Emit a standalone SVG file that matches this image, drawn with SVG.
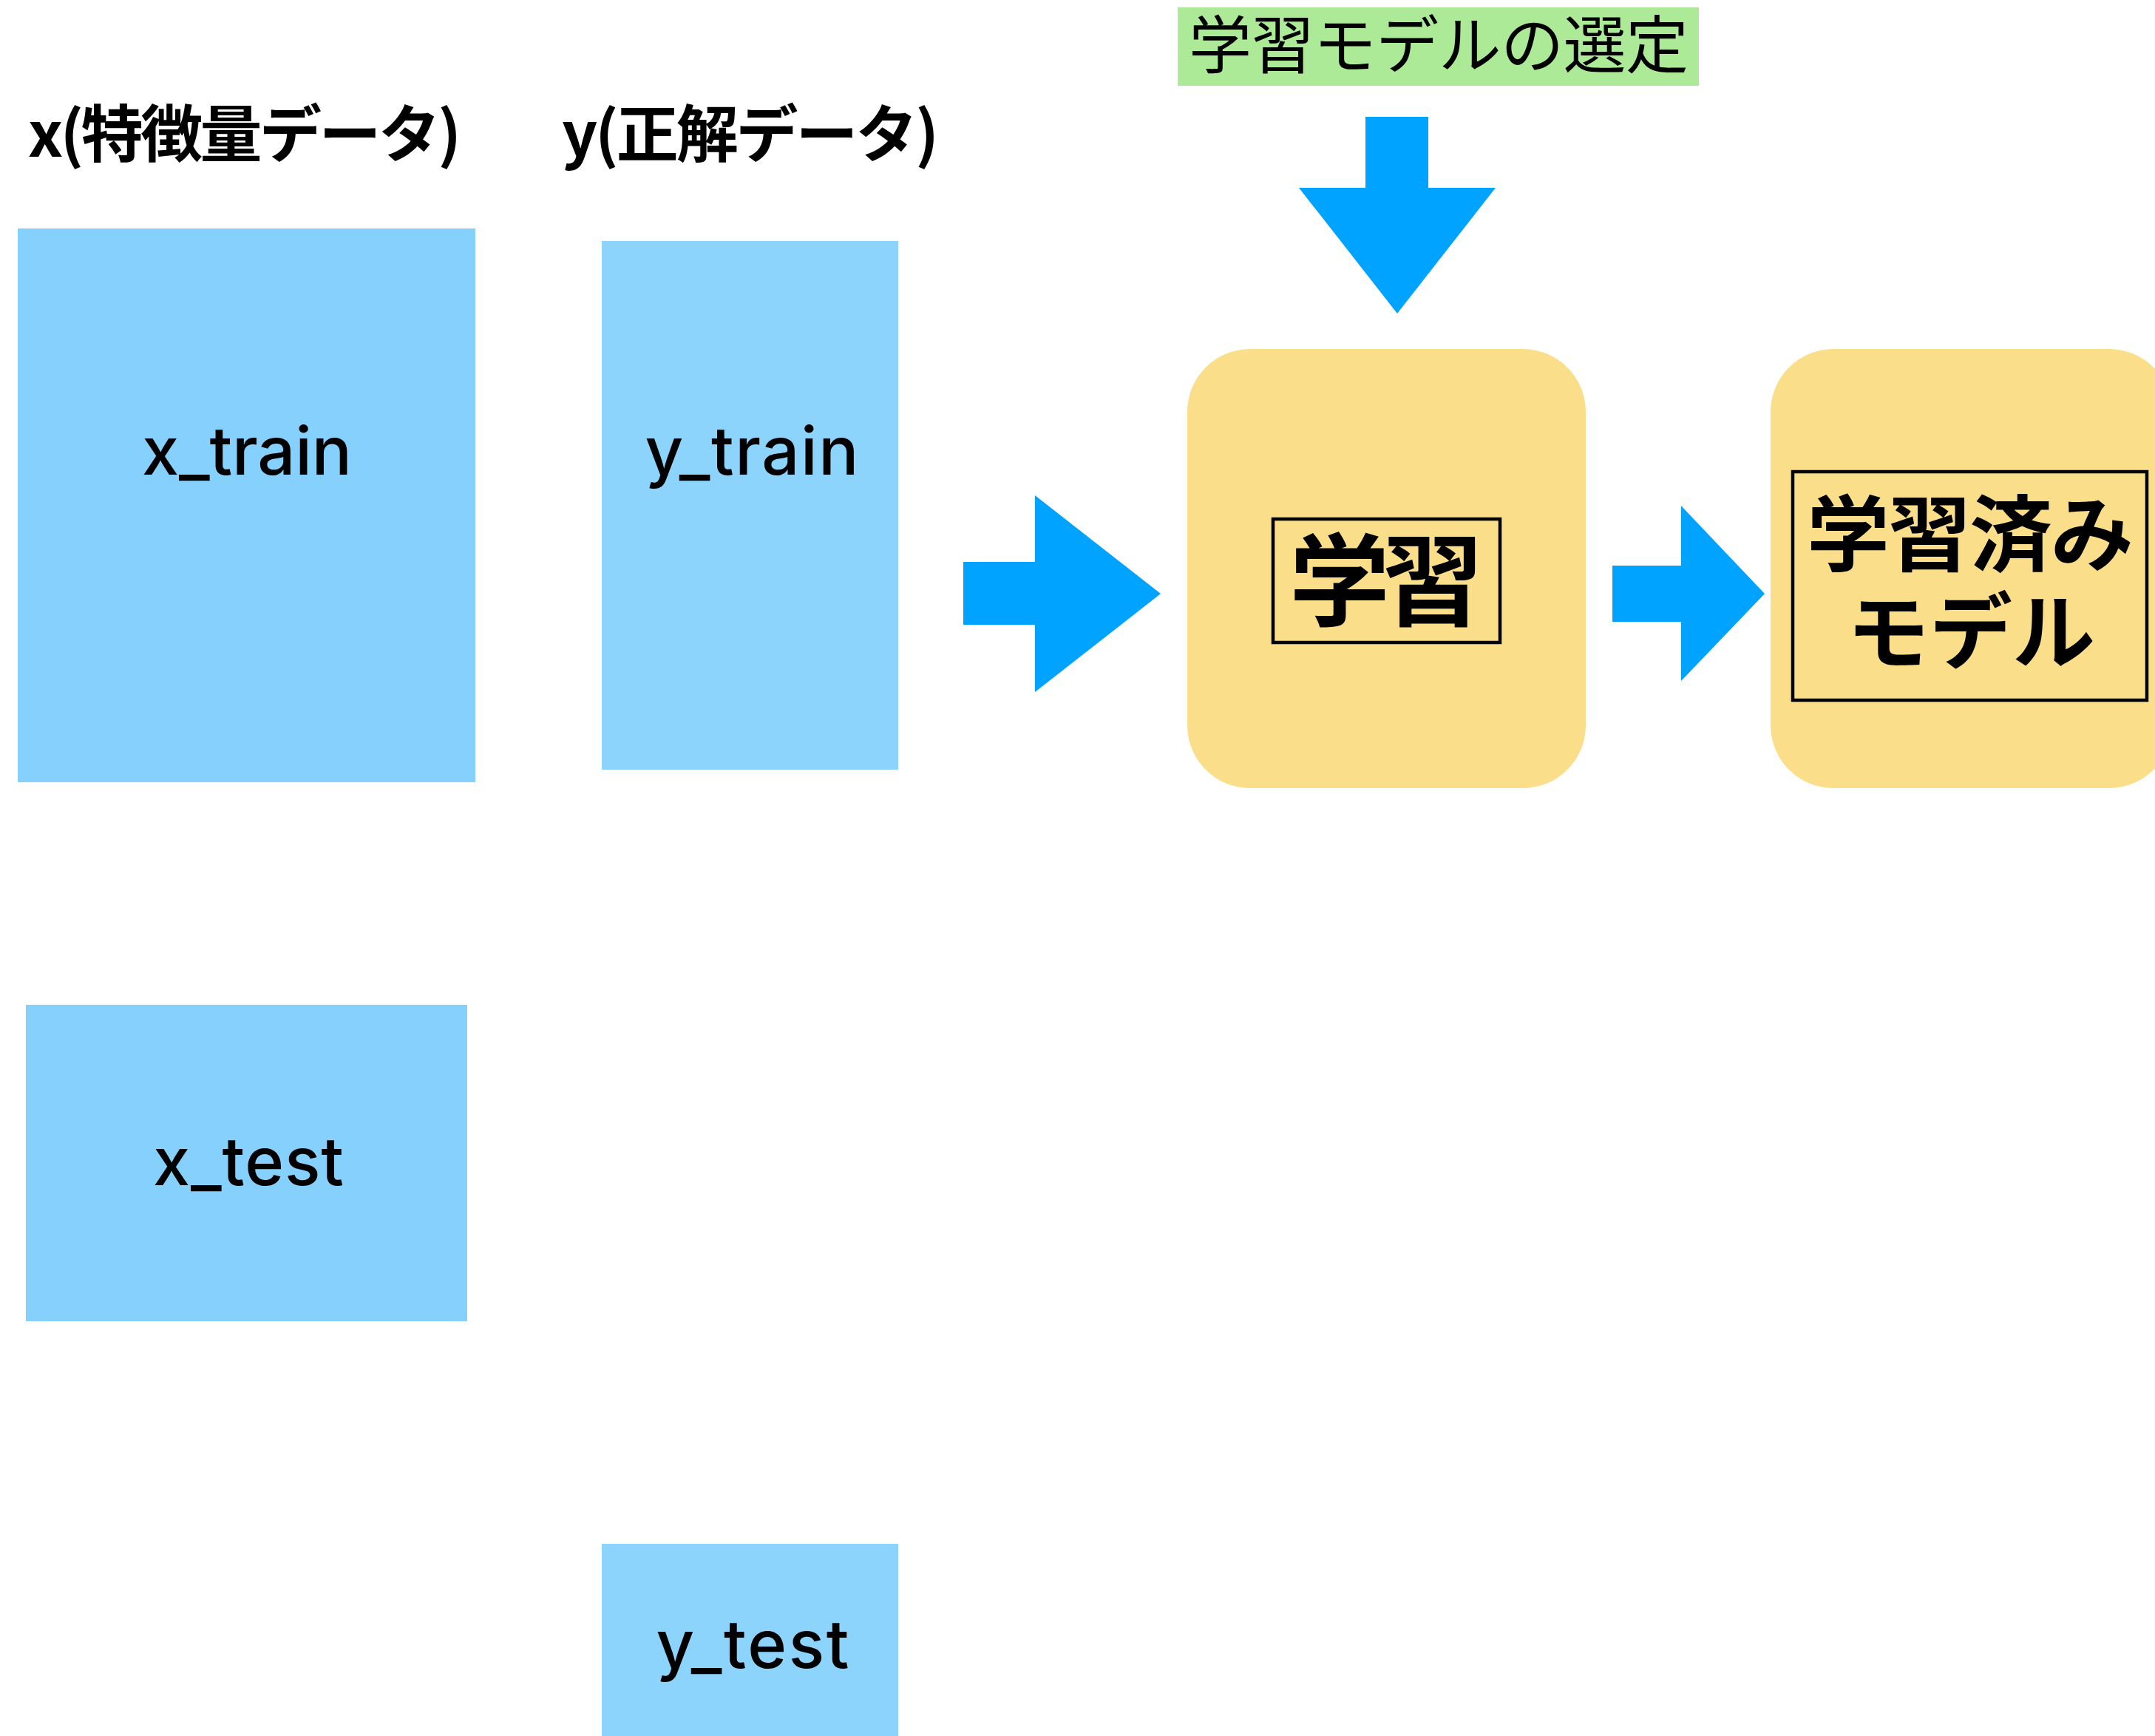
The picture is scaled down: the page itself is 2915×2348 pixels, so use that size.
<svg xmlns="http://www.w3.org/2000/svg" width="2915" height="2348" viewBox="0 0 2915 2348">
<style>
.bg{fill:#ffffff}
.xdata{fill:#86D0FE}
.ydata{fill:#8CD4FC}
.stage{fill:#FBDE8A}
.frame{fill:none;stroke:#000;stroke-width:4.5}
.arrow{fill:#00A3FF}
.lbl{font-family:Inter,"Liberation Sans",Arial,sans-serif;font-weight:500;font-size:90px;fill:#000;text-anchor:middle}
.hdr{font-family:"Noto Sans CJK JP","Noto Sans",sans-serif;font-weight:bold;font-size:84px;fill:#000}
.jp{font-family:"Noto Sans CJK JP",sans-serif;fill:#000;text-anchor:middle}
</style>
<rect class="bg" x="0" y="0" width="2915" height="2348"/>

<g id="header-x"><text class="hdr" x="38" y="212" textLength="586">x(特徴量データ)</text></g>
<g id="header-y"><text class="hdr" x="760" y="212" textLength="510">y(正解データ)</text></g>

<g id="x_train"><rect class="xdata" x="24" y="309" width="619" height="749"/><text class="lbl" x="334" y="642" textLength="284">x_train</text></g>
<g id="y_train"><rect class="ydata" x="814" y="326" width="401" height="715"/><text class="lbl" x="1017" y="642" textLength="289">y_train</text></g>
<g id="x_test"><rect class="xdata" x="35" y="1359" width="597" height="428"/><text class="lbl" x="336" y="1603" textLength="258">x_test</text></g>
<g id="y_test"><rect class="ydata" x="814" y="2088" width="401" height="270"/><text class="lbl" x="1018" y="2256" textLength="261">y_test</text></g>

<g id="model-select"><rect x="1593" y="10" width="705" height="106" fill="#ADEA98"/><text class="jp" x="1946" y="92" font-size="85" textLength="676">学習モデルの選定</text></g>

<g id="learning"><rect class="stage" x="1606" y="472" width="539" height="594" rx="85" ry="85"/><rect class="frame" x="1722" y="702" width="307" height="167"/><text class="jp" x="1875" y="836" font-size="136" font-weight="bold" textLength="262">学習</text></g>

<g id="trained-model"><rect class="stage" x="2395" y="472" width="543" height="594" rx="85" ry="85"/><rect class="frame" x="2425" y="638" width="479" height="309"/><text class="jp" x="2665" y="764" font-size="112" font-weight="bold" textLength="442">学習済み</text><text class="jp" x="2666" y="896" font-size="112" font-weight="bold">モデル</text></g>

<g id="connectors">
<polygon class="arrow" points="1847,158 1932,158 1932,254 2023,254 1890,424 1757,254 1847,254"/>
<polygon class="arrow" points="1303,760 1400,760 1400,670 1570,803 1400,936 1400,845 1303,845"/>
<polygon class="arrow" points="2181,765 2274,765 2274,684 2387,803 2274,921 2274,841 2181,841"/>
</g>
</svg>
